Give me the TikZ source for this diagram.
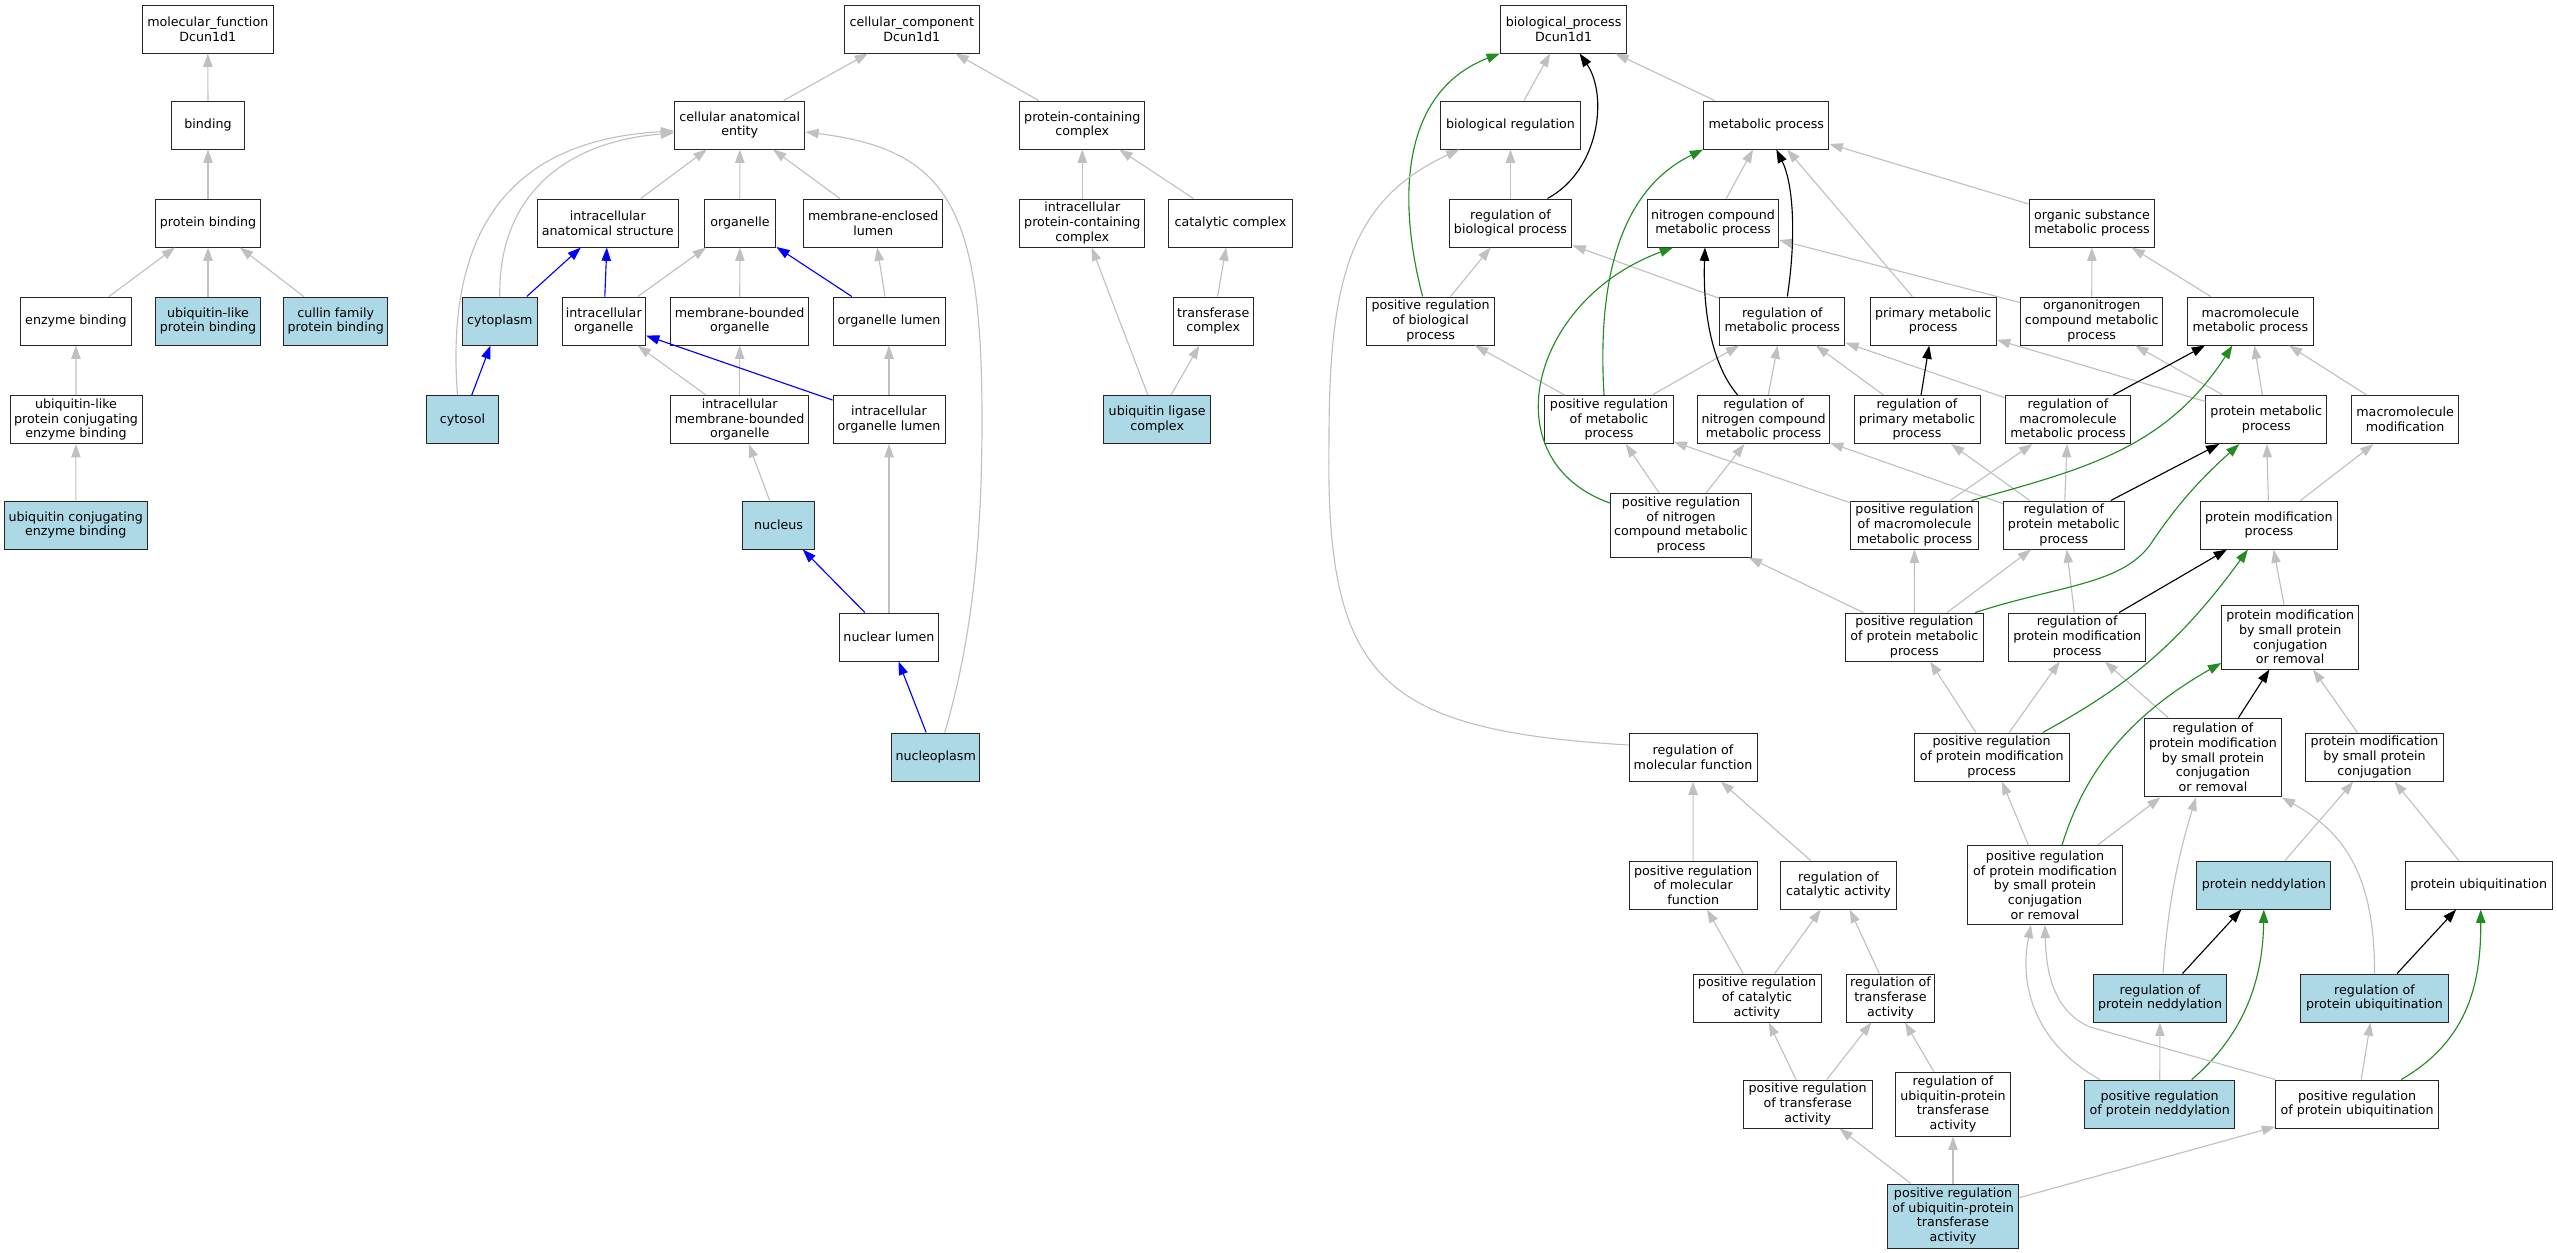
\documentclass[tikz,border=0pt]{standalone}
\usepackage{fontspec}
\setmainfont{DejaVu Sans}
\usetikzlibrary{arrows.meta,calc}
\definecolor{edgegray}{RGB}{192,192,192}
\definecolor{hitblue}{RGB}{173,216,230}
\definecolor{posgreen}{RGB}{34,139,34}
\begin{document}
\begin{tikzpicture}[x=0.75pt,y=-0.75pt,
  term/.style={draw=black!85,line width=0.75pt,rectangle,align=center,fill=white,
    minimum height=36pt,inner xsep=1.5pt,inner ysep=1pt,font=\fontsize{9.5}{11}\selectfont},
  hit/.style={term,fill=hitblue},
  isa/.style={draw=edgegray,line width=0.85pt,-{Triangle[length=10pt,width=7pt]}},
  partof/.style={isa,draw=blue},
  reg/.style={isa,draw=black},
  posreg/.style={isa,draw=posgreen}]
\useasboundingbox (0,0) rectangle (2557,1253);
% molecular function
\node[term,minimum width=98.3pt] (mf) at (207.8,29) {molecular\_function\\Dcun1d1};
\node[term,minimum width=54.2pt] (binding) at (208,125) {binding};
\node[term,minimum width=78.4pt] (pb) at (208,223) {protein binding};
\node[term,minimum width=83.1pt] (eb) at (75.9,321) {enzyme binding};
\node[hit,minimum width=78.4pt] (ulpb) at (208,321) {ubiquitin-like\\protein binding};
\node[hit,minimum width=78.4pt] (cfpb) at (335.7,321) {cullin family\\protein binding};
\node[term,minimum width=99pt] (ulpceb) at (76,419.5) {ubiquitin-like\\protein conjugating\\enzyme binding};
\node[hit,minimum width=107.3pt] (uceb) at (75.8,525) {ubiquitin conjugating\\enzyme binding};
% cellular component
\node[term,minimum width=100.8pt] (cc) at (911.8,29) {cellular\_component\\Dcun1d1};
\node[term,minimum width=97.7pt] (cae) at (739.7,125) {cellular anatomical\\entity};
\node[term,minimum width=94pt] (pcc) at (1082.3,125) {protein-containing\\complex};
\node[term,minimum width=106.2pt] (ias) at (607.8,223) {intracellular\\anatomical structure};
\node[term,minimum width=53.9pt] (org) at (740,223) {organelle};
\node[term,minimum width=104.5pt] (mel) at (873.2,223) {membrane-enclosed\\lumen};
\node[term,minimum width=94pt] (ipcc) at (1082.3,223) {intracellular\\protein-containing\\complex};
\node[term,minimum width=92.4pt] (cat) at (1230.4,223) {catalytic complex};
\node[hit,minimum width=55.9pt] (cytoplasm) at (499.8,321) {cytoplasm};
\node[term,minimum width=62.6pt] (io) at (603.8,321) {intracellular\\organelle};
\node[term,minimum width=103.8pt] (mbo) at (739.7,321) {membrane-bounded\\organelle};
\node[term,minimum width=84pt] (ol) at (889,321) {organelle lumen};
\node[term,minimum width=59.9pt] (tc) at (1213.2,321) {transferase\\complex};
\node[hit,minimum width=54.3pt] (cytosol) at (462.5,419.5) {cytosol};
\node[term,minimum width=103.8pt] (imbo) at (739.7,419.5) {intracellular\\membrane-bounded\\organelle};
\node[term,minimum width=84pt] (iol) at (889,419.5) {intracellular\\organelle lumen};
\node[hit,minimum width=80.3pt] (ulc) at (1157.2,419.5) {ubiquitin ligase\\complex};
\node[hit,minimum width=54.2pt] (nucleus) at (778.6,525) {nucleus};
\node[term,minimum width=74pt] (nl) at (889,637) {nuclear lumen};
\node[hit,minimum width=66.3pt] (nucleoplasm) at (935.7,757) {nucleoplasm};
% biological process
\node[term,minimum width=94.8pt] (bp) at (1563.6,29) {biological\_process\\Dcun1d1};
\node[term,minimum width=104.3pt] (br) at (1510.5,125) {biological regulation};
\node[term,minimum width=94pt] (mp) at (1766.3,125) {metabolic process};
\node[term,minimum width=92.2pt] (rbp) at (1510.5,223) {regulation of\\biological process};
\node[term,minimum width=98.5pt] (ncmp) at (1713,223) {nitrogen compound\\metabolic process};
\node[term,minimum width=94.4pt] (osmp) at (2092,223) {organic substance\\metabolic process};
\node[term,minimum width=96.1pt] (prbp) at (1430.6,321) {positive regulation\\of biological\\process};
\node[term,minimum width=94pt] (rmp) at (1782.3,321) {regulation of\\metabolic process};
\node[term,minimum width=94.8pt] (primmp) at (1933.2,321) {primary metabolic\\process};
\node[term,minimum width=106.8pt] (ocmp) at (2091.7,321) {organonitrogen\\compound metabolic\\process};
\node[term,minimum width=94pt] (mmp) at (2250.4,321) {macromolecule\\metabolic process};
\node[term,minimum width=96.2pt] (prmp) at (1609,419.5) {positive regulation\\of metabolic\\process};
\node[term,minimum width=98.8pt] (rncmp) at (1763.6,419.5) {regulation of\\nitrogen compound\\metabolic process};
\node[term,minimum width=94.5pt] (rprimmp) at (1917,419.5) {regulation of\\primary metabolic\\process};
\node[term,minimum width=94.4pt] (rmmp) at (2068,419.5) {regulation of\\macromolecule\\metabolic process};
\node[term,minimum width=90.6pt] (pmp) at (2266.3,419.5) {protein metabolic\\process};
\node[term,minimum width=79.8pt] (mmod) at (2405.1,419.5) {macromolecule\\modification};
\node[term,minimum width=106.1pt,minimum height=48pt] (prncmp) at (1681,525) {positive regulation\\of nitrogen\\compound metabolic\\process};
\node[term,minimum width=95.4pt] (prmmp) at (1914.5,525) {positive regulation\\of macromolecule\\metabolic process};
\node[term,minimum width=90.5pt] (rpmp) at (2063.8,525) {regulation of\\protein metabolic\\process};
\node[term,minimum width=102.8pt] (pmodp) at (2268.9,525) {protein modification\\process};
\node[term,minimum width=103.9pt] (pprmp) at (1914.3,637) {positive regulation\\of protein metabolic\\process};
\node[term,minimum width=102.5pt] (rpmodp) at (2077.2,637) {regulation of\\protein modification\\process};
\node[term,minimum width=102.8pt,minimum height=48pt] (pmspcr) at (2290.2,637) {protein modification\\by small protein\\conjugation\\or removal};
\node[term,minimum width=96pt] (rmf) at (1693,757) {regulation of\\molecular function};
\node[term,minimum width=116.3pt] (pprmodp) at (1991.7,757) {positive regulation\\of protein modification\\process};
\node[term,minimum width=102.4pt,minimum height=59pt] (rpmsp) at (2213,757.5) {regulation of\\protein modification\\by small protein\\conjugation\\or removal};
\node[term,minimum width=102.8pt] (pmspc) at (2374.5,757) {protein modification\\by small protein\\conjugation};
\node[term,minimum width=96.1pt] (prmf) at (1693.2,885) {positive regulation\\of molecular\\function};
\node[term,minimum width=86.3pt] (rca) at (1838.5,885) {regulation of\\catalytic activity};
\node[term,minimum width=116.2pt,minimum height=59pt] (pprmsp) at (2045,885) {positive regulation\\of protein modification\\by small protein\\conjugation\\or removal};
\node[hit,minimum width=100.3pt] (pn) at (2263.8,885) {protein neddylation};
\node[term,minimum width=110.5pt] (pu) at (2478.7,885) {protein ubiquitination};
\node[term,minimum width=96pt] (prca) at (1757,998) {positive regulation\\of catalytic\\activity};
\node[term,minimum width=66.7pt] (rta) at (1890.5,998) {regulation of\\transferase\\activity};
\node[hit,minimum width=99.8pt] (rpn) at (2160,998) {regulation of\\protein neddylation};
\node[hit,minimum width=110.3pt] (rpu) at (2374.5,998) {regulation of\\protein ubiquitination};
\node[term,minimum width=96.5pt] (prta) at (1807.7,1104) {positive regulation\\of transferase\\activity};
\node[term,minimum width=86.1pt,minimum height=48pt] (ruta) at (1953,1104) {regulation of\\ubiquitin-protein\\transferase\\activity};
\node[hit,minimum width=112.8pt] (pprn) at (2159.7,1104) {positive regulation\\of protein neddylation};
\node[term,minimum width=122.3pt] (ppu) at (2357.2,1104) {positive regulation\\of protein ubiquitination};
\node[hit,minimum width=98.1pt,minimum height=48pt] (pruta) at (1953,1216) {positive regulation\\of ubiquitin-protein\\transferase\\activity};
% molecular function edges
\draw[isa] (binding) -- (mf);
\draw[isa] (pb) -- (binding);
\draw[isa] (eb) -- (pb);
\draw[isa] (ulpb) -- (pb);
\draw[isa] (cfpb) -- (pb);
\draw[isa] (ulpceb) -- (eb);
\draw[isa] (uceb) -- (ulpceb);
% cellular component edges
\draw[isa] (cae) -- (cc);
\draw[isa] (pcc) -- (cc);
\draw[isa] (ias) -- (cae);
\draw[isa] (org) -- (cae);
\draw[isa] (mel) -- (cae);
\draw[isa] (ipcc) -- (pcc);
\draw[isa] (cat) -- (pcc);
\draw[partof] (cytoplasm) -- (ias);
\draw[partof] (io) -- (ias);
\draw[isa] (io) -- (org);
\draw[isa] (mbo) -- (org);
\draw[partof] (ol) -- (org);
\draw[isa] (ol) -- (mel);
\draw[isa] (tc) -- (cat);
\draw[partof] (cytosol) -- (cytoplasm);
\draw[isa] (imbo) -- (io);
\draw[isa] (imbo) -- (mbo);
\draw[partof] (iol) -- (io);
\draw[isa] (iol) -- (ol);
\draw[isa] (ulc) -- (ipcc);
\draw[isa] (ulc) -- (tc);
\draw[isa] (nucleus) -- (imbo);
\draw[partof] (nl) -- (nucleus);
\draw[isa] (nl) -- (iol);
\draw[partof] (nucleoplasm) -- (nl);
\draw[isa] (cytoplasm.north) .. controls (498,200) and (560,142) .. ($(cae.west)+(0,8)$);
\draw[isa] ($(cytosol.north)+(-5,0)$) .. controls (445,230) and (510,140) .. ($(cae.west)+(0,6)$);
\draw[isa] ($(nucleoplasm.north)+(9,0)$) .. controls (972,640) and (982,540) .. (982,420)
  .. controls (982,210) and (950,150) .. ($(cae.east)+(0,7)$);
% biological process edges
\draw[isa] (br) -- (bp);
\draw[isa] (mp) -- (bp);
\draw[isa] (rbp) -- (br);
\draw[isa] (ncmp) -- (mp);
\draw[isa] (primmp) -- (mp);
\draw[isa] (osmp) -- (mp);
\draw[isa] (prbp) -- (rbp);
\draw[isa] (rmp) -- (rbp);
\draw[isa] (ocmp) -- (ncmp);
\draw[isa] (ocmp) -- (osmp);
\draw[isa] (mmp) -- (osmp);
\draw[isa] (prmp) -- (prbp);
\draw[isa] (prmp) -- (rmp);
\draw[isa] (rncmp) -- (rmp);
\draw[isa] (rprimmp) -- (rmp);
\draw[isa] (rmmp) -- (rmp);
\draw[reg] (rprimmp) -- (primmp);
\draw[isa] (pmp) -- (primmp);
\draw[isa] (pmp) -- (ocmp);
\draw[reg] (rmmp) -- (mmp);
\draw[isa] (pmp) -- (mmp);
\draw[isa] (mmod) -- (mmp);
\draw[isa] (prncmp) -- (prmp);
\draw[isa] (prncmp) -- (rncmp);
\draw[isa] (prmmp) -- (prmp);
\draw[isa] (prmmp) -- (rmmp);
\draw[isa] (rpmp) -- (rncmp);
\draw[isa] (rpmp) -- (rprimmp);
\draw[isa] (rpmp) -- (rmmp);
\draw[reg] (rpmp) -- (pmp);
\draw[isa] (pmodp) -- (pmp);
\draw[isa] (pmodp) -- (mmod);
\draw[isa] (pprmp) -- (prncmp);
\draw[isa] (pprmp) -- (prmmp);
\draw[isa] (pprmp) -- (rpmp);
\draw[isa] (rpmodp) -- (rpmp);
\draw[reg] (rpmodp) -- (pmodp);
\draw[isa] (pmspcr) -- (pmodp);
\draw[isa] (pprmodp) -- (pprmp);
\draw[isa] (pprmodp) -- (rpmodp);
\draw[isa] (rpmsp) -- (rpmodp);
\draw[reg] (rpmsp) -- (pmspcr);
\draw[isa] (pmspc) -- (pmspcr);
\draw[isa] (prmf) -- (rmf);
\draw[isa] (rca) -- (rmf);
\draw[isa] (pprmsp) -- (pprmodp);
\draw[isa] (pprmsp) -- (rpmsp);
\draw[isa] (pn) -- (pmspc);
\draw[isa] (pu) -- (pmspc);
\draw[isa] (prca) -- (prmf);
\draw[isa] (prca) -- (rca);
\draw[isa] (rta) -- (rca);
\draw[reg] (rpn) -- (pn);
\draw[reg] (rpu) -- (pu);
\draw[isa] (prta) -- (prca);
\draw[isa] (prta) -- (rta);
\draw[isa] (ruta) -- (rta);
\draw[isa] (pprn) -- (rpn);
\draw[isa] (ppu) -- (rpu);
\draw[isa] (pruta) -- (prta);
\draw[isa] (pruta) -- (ruta);
\draw[isa] (pruta) -- (ppu);
% curved ones
\draw[reg] ($(rbp.north)+(37,0)$) .. controls (1600,170) and (1608,95) .. ($(bp.south)+(16,0)$);
\draw[posreg] ($(prbp.north)+(-8,0)$) .. controls (1395,190) and (1405,90) .. (bp.south west);
\draw[isa] ($(rmf.west)+(0,-12)$) .. controls (1380,730) and (1325,680) .. (1329,440)
  .. controls (1329,280) and (1350,200) .. ($(br.south west)+(19,0)$);
\draw[reg] ($(rmp.north)+(5,0)$) .. controls (1796,240) and (1794,185) .. ($(mp.south)+(10,0)$);
\draw[posreg] ($(prmp.north)+(-5,0)$) .. controls (1596,260) and (1630,185) .. (mp.south west);
\draw[reg] ($(rncmp.north)+(-26,0)$) .. controls (1708,360) and (1703,300) .. ($(ncmp.south)+(-8,0)$);
\draw[posreg] ($(prncmp.west)+(0,-22)$) .. controls (1490,460) and (1530,300) .. ($(ncmp.south)+(-40,0)$);
\draw[posreg] ($(prmmp.north)+(57,0)$) .. controls (2080,470) and (2165,450) .. ($(mmp.south)+(-18,0)$);
\draw[posreg] ($(pprmp.north)+(61,0)$) .. controls (2060,585) and (2120,585) .. (2150,545)
  .. controls (2180,500) and (2205,475) .. ($(pmp.south)+(-27,0)$);
\draw[posreg] ($(pprmodp.north)+(51,0)$) .. controls (2120,690) and (2175,650) .. ($(pmodp.south)+(-21,0)$);
\draw[posreg] ($(pprmsp.north)+(17,0)$) .. controls (2085,770) and (2130,715) .. ($(pmspcr.west)+(0,26)$);
\draw[posreg] ($(pprn.north)+(32,0)$) .. controls (2250,1030) and (2263,970) .. (pn.south);
\draw[posreg] ($(ppu.north)+(44,0)$) .. controls (2470,1040) and (2481,980) .. ($(pu.south)+(2,0)$);
\draw[isa] ($(rpn.north)+(3,0)$) .. controls (2168,900) and (2180,850) .. ($(rpmsp.south)+(-17,0)$);
\draw[isa] (rpu.north) .. controls (2375,870) and (2340,830) .. (rpmsp.south east);
\draw[isa] ($(pprn.north)+(-60,0)$) .. controls (2030,1040) and (2020,980) .. ($(pprmsp.south)+(-14,0)$);
\draw[isa] (ppu.north west) -- (2090,1027) .. controls (2055,1012) and (2046,975) .. (pprmsp.south);
\end{tikzpicture}
\end{document}
